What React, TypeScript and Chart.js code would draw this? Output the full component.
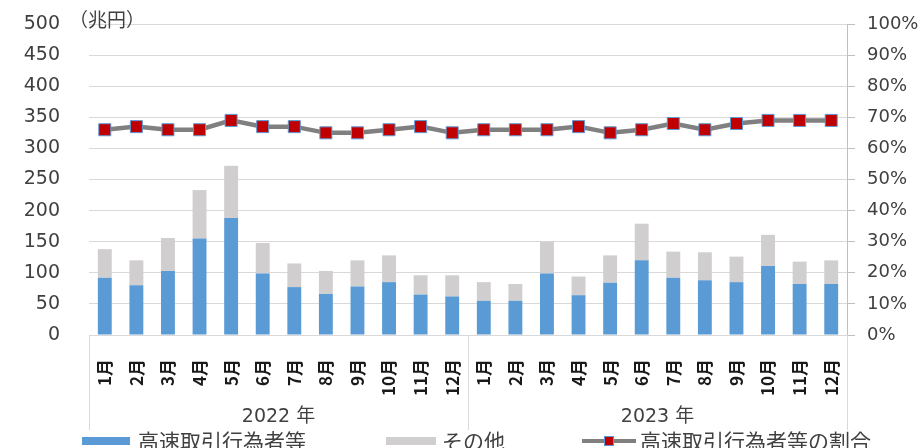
import React, { useEffect, useRef } from "react";
import { Chart, registerables } from "chart.js";

Chart.register(...registerables);

const months = ["1月", "2月", "3月", "4月", "5月", "6月", "7月", "8月", "9月", "10月", "11月", "12月"];
const categories = [...months, ...months];
const yearLabels = ["2022 年", "2023 年"];
const hftValues = [92, 80, 103, 155, 188, 99, 77, 66, 78, 85, 65, 62, 55, 55, 99, 64, 84, 120, 92, 88, 85, 111, 82, 82];
const otherValues = [46, 40, 53, 78, 84, 49, 38, 37, 42, 43, 31, 34, 30, 27, 51, 30, 44, 59, 42, 45, 41, 50, 36, 38];
const shareValues = [66, 67, 66, 66, 69, 67, 67, 65, 65, 66, 67, 65, 66, 66, 66, 67, 65, 66, 68, 66, 68, 69, 69, 69];
const seriesLabels = ["高速取引行為者等", "その他", "高速取引行為者等の割合"];
const unitLabel = "（兆円）";

const FONT = "'Noto Sans CJK JP', 'Noto Sans', sans-serif";
const NUMFONT = "'DejaVu Sans', 'Noto Sans CJK JP', sans-serif";
const BLUE = "#5b9bd5";
const GRAY = "#d0cece";
const LINE = "#808080";
const RED = "#c00000";
const TEXT = "#404040";

const extrasPlugin = {
  id: "extras",
  afterDraw(chart: any) {
    const ctx = chart.ctx;
    const area = chart.chartArea;
    const xs = chart.scales.x;
    ctx.save();
    const mid = (xs.getPixelForValue(11) + xs.getPixelForValue(12)) / 2;
    ctx.strokeStyle = "#d9d9d9";
    ctx.lineWidth = 1;
    [area.left, mid, area.right].forEach((x) => {
      ctx.beginPath();
      ctx.moveTo(Math.round(x) + 0.5, area.bottom);
      ctx.lineTo(Math.round(x) + 0.5, 430);
      ctx.stroke();
    });
    ctx.fillStyle = TEXT;
    ctx.font = `19px ${NUMFONT}`;
    ctx.textAlign = "center";
    ctx.textBaseline = "middle";
    const c1 = (area.left + mid) / 2;
    const c2 = (mid + area.right) / 2;
    ctx.fillText(yearLabels[0], c1, 417);
    ctx.fillText(yearLabels[1], c2, 417);
    ctx.font = `19px ${FONT}`;
    ctx.textAlign = "left";
    ctx.fillText(unitLabel, 69, 20);
    const ly = 441;
    ctx.font = `21px ${FONT}`;
    ctx.fillStyle = BLUE;
    ctx.fillRect(82, ly - 4, 48, 8);
    ctx.fillStyle = TEXT;
    ctx.fillText(chart.data.datasets[0].label, 138, ly);
    ctx.fillStyle = GRAY;
    ctx.fillRect(386, ly - 4, 50, 8);
    ctx.fillStyle = TEXT;
    ctx.fillText(chart.data.datasets[1].label, 442, ly);
    ctx.strokeStyle = LINE;
    ctx.lineWidth = 4;
    ctx.beginPath();
    ctx.moveTo(582, ly);
    ctx.lineTo(636, ly);
    ctx.stroke();
    ctx.fillStyle = RED;
    ctx.fillRect(604, ly - 5, 10, 10);
    ctx.strokeStyle = BLUE;
    ctx.lineWidth = 1;
    ctx.strokeRect(604.5, ly - 4.5, 9, 9);
    ctx.fillStyle = TEXT;
    ctx.fillText(chart.data.datasets[2].label, 640, ly);
    ctx.restore();
  },
};

export default function App() {
  const ref = useRef<HTMLCanvasElement>(null);
  useEffect(() => {
    document.body.style.margin = "0";
    const chart = new Chart(ref.current as HTMLCanvasElement, {
      type: "bar",
      data: {
        labels: categories,
        datasets: [
          {
            type: "bar",
            label: seriesLabels[0],
            data: hftValues,
            backgroundColor: BLUE,
            yAxisID: "y",
            order: 1,
            barPercentage: 0.44,
            categoryPercentage: 1,
          },
          {
            type: "bar",
            label: seriesLabels[1],
            data: otherValues,
            backgroundColor: GRAY,
            yAxisID: "y",
            order: 1,
            barPercentage: 0.44,
            categoryPercentage: 1,
          },
          {
            type: "line",
            label: seriesLabels[2],
            data: shareValues,
            borderColor: LINE,
            borderWidth: 4.5,
            pointStyle: "rect",
            pointRadius: 8.5,
            pointBackgroundColor: RED,
            pointBorderColor: BLUE,
            pointBorderWidth: 1,
            yAxisID: "y1",
            order: 0,
            tension: 0,
          } as any,
        ],
      },
      options: {
        responsive: false,
        animation: false,
        layout: { padding: { top: 24, left: 0, right: 0, bottom: 0 } },
        plugins: { legend: { display: false }, tooltip: { enabled: false } },
        scales: {
          x: {
            stacked: true,
            grid: { display: false },
            border: { display: true, color: "#d9d9d9" },
            ticks: {
              minRotation: 90,
              maxRotation: 90,
              autoSkip: false,
              padding: 16,
              color: "#1a1a1a",
              font: { family: FONT, size: 17, weight: "bold" },
            },
            afterFit: (s: any) => {
              s.height = 113;
              s.paddingLeft = 0;
              s.paddingRight = 0;
            },
          },
          y: {
            stacked: true,
            min: 0,
            max: 500,
            position: "left",
            ticks: { stepSize: 50, padding: 29, color: TEXT, font: { family: NUMFONT, size: 19 } },
            grid: { color: "#d9d9d9", drawTicks: false },
            border: { display: false },
            afterFit: (s: any) => {
              s.width = 89;
              s.paddingTop = 0;
              s.paddingBottom = 0;
            },
          },
          y1: {
            min: 0,
            max: 100,
            position: "right",
            ticks: {
              stepSize: 10,
              padding: 12,
              color: TEXT,
              font: { family: NUMFONT, size: 18 },
              callback: (v: any) => v + "%",
            },
            grid: { drawOnChartArea: false, drawTicks: true, tickLength: 8, color: "#bfbfbf" },
            border: { display: true, color: "#bfbfbf" },
            afterFit: (s: any) => {
              s.width = 73;
              s.paddingTop = 0;
              s.paddingBottom = 0;
            },
          },
        },
      },
      plugins: [extrasPlugin],
    });
    return () => chart.destroy();
  }, []);
  return (
    <div style={{ width: 920, height: 448 }}>
      <canvas ref={ref} width={920} height={448} />
    </div>
  );
}
